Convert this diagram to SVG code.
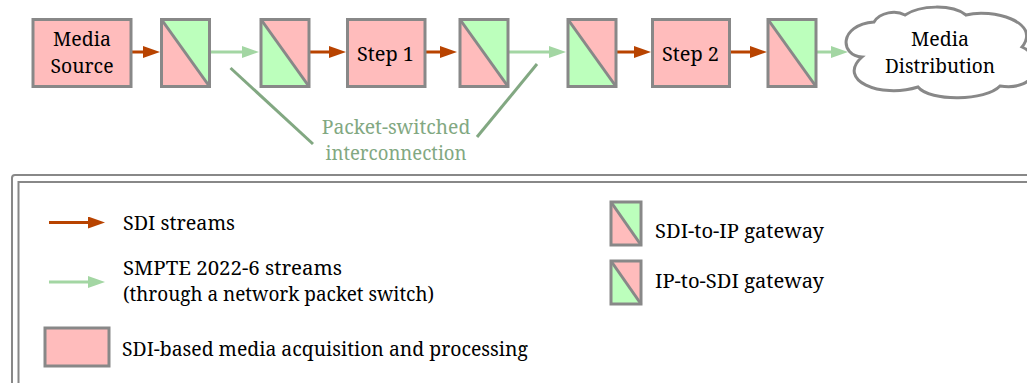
<svg xmlns="http://www.w3.org/2000/svg" width="1027" height="383" viewBox="0 0 1027 383">
<style>
text{font-family:"Noto Serif","DejaVu Serif",serif;font-size:20px;fill:#000}
.box{fill:#ffbcbc;stroke:#888;stroke-width:3}
.frame{fill:none;stroke:#888;stroke-width:3}
.pk{fill:#ffbcbc}
.gr{fill:#bcffbc}
.diag{stroke:#888;stroke-width:3}
.sdi{stroke:#b84300;stroke-width:3;fill:none;marker-end:url(#hb)}
.ip{stroke:#a3d6a3;stroke-width:3;fill:none;marker-end:url(#hg)}
.call{stroke:#82a882;stroke-width:3}
.ctext{fill:#82a882;text-anchor:middle}
.mid{text-anchor:middle}
.leg{fill:none;stroke:#888;stroke-width:2}
</style>
<defs>
<marker id="hb" viewBox="0 0 17 12" refX="7" refY="6" markerWidth="17" markerHeight="12" markerUnits="userSpaceOnUse" orient="auto"><path d="M0,0 L17,6 L0,12 Z" fill="#b84300"/></marker>
<marker id="hg" viewBox="0 0 17 12" refX="7" refY="6" markerWidth="17" markerHeight="12" markerUnits="userSpaceOnUse" orient="auto"><path d="M0,0 L17,6 L0,12 Z" fill="#a3d6a3"/></marker>
<g id="gw-s2i">
<polygon class="gr" points="0,0 48,0 48,67"/>
<polygon class="pk" points="0,0 0,67 48,67"/>
<line class="diag" x1="0" y1="0" x2="48" y2="67"/>
<rect class="frame" x="0" y="0" width="48" height="67"/>
</g>
<g id="gw-i2s">
<polygon class="pk" points="0,0 48,0 48,67"/>
<polygon class="gr" points="0,0 0,67 48,67"/>
<line class="diag" x1="0" y1="0" x2="48" y2="67"/>
<rect class="frame" x="0" y="0" width="48" height="67"/>
</g>
</defs>
<rect width="1027" height="383" fill="#fff"/>

<g id="connectors">
<line class="sdi" x1="131" y1="52" x2="150" y2="52"/>
<line class="ip" x1="210" y1="52" x2="249" y2="52"/>
<line class="sdi" x1="309" y1="52" x2="336" y2="52"/>
<line class="sdi" x1="425" y1="52" x2="447" y2="52"/>
<line class="ip" x1="508" y1="52" x2="556" y2="52"/>
<line class="sdi" x1="616" y1="52" x2="641" y2="52"/>
<line class="sdi" x1="729" y1="52" x2="757" y2="52"/>
<line class="ip" x1="817" y1="52" x2="838" y2="52"/>
<line class="call" x1="230.5" y1="68" x2="313" y2="144"/>
<line class="call" x1="537" y1="64" x2="477" y2="137"/>
</g>

<g id="media-source">
<rect class="box" x="33" y="19.5" width="98" height="67"/>
<text class="mid" x="82" y="45.5" textLength="58" lengthAdjust="spacingAndGlyphs">Media</text>
<text class="mid" x="82" y="72.5" textLength="63" lengthAdjust="spacingAndGlyphs">Source</text>
</g>
<g id="gateway1"><use href="#gw-s2i" x="161.5" y="19.5"/></g>
<g id="gateway2"><use href="#gw-i2s" x="261" y="19.5"/></g>
<g id="step1">
<rect class="box" x="347.5" y="19.5" width="77.5" height="67"/>
<text class="mid" x="385.5" y="60.5" textLength="57" lengthAdjust="spacingAndGlyphs">Step 1</text>
</g>
<g id="gateway3"><use href="#gw-s2i" x="460" y="19.5"/></g>
<g id="gateway4"><use href="#gw-i2s" x="568" y="19.5"/></g>
<g id="step2">
<rect class="box" x="652.5" y="19.5" width="77" height="67"/>
<text class="mid" x="690.5" y="60.5" textLength="57" lengthAdjust="spacingAndGlyphs">Step 2</text>
</g>
<g id="gateway5"><use href="#gw-s2i" x="768" y="19.5"/></g>
<g id="media-distribution">
<path d="M862,57 C840,56 838,25 874,22 C880,12 896,10 905,15 C920,5 952,4 966,15 C992,8 1042,22 1022,47 C1046,58 1038,92 1000,86 C986,101 930,102 918,87 C880,99 836,80 862,57 Z" fill="#fff" stroke="#888" stroke-width="3"/>
<text class="mid" x="940" y="45.5" textLength="58" lengthAdjust="spacingAndGlyphs">Media</text>
<text class="mid" x="940" y="72.5" textLength="110" lengthAdjust="spacingAndGlyphs">Distribution</text>
</g>
<g id="callout-label">
<text class="ctext" x="396" y="134" textLength="148.5" lengthAdjust="spacingAndGlyphs">Packet-switched</text>
<text class="ctext" x="396" y="160" textLength="141" lengthAdjust="spacingAndGlyphs">interconnection</text>
</g>

<g id="legend">
<rect class="leg" x="12" y="175" width="1100" height="300" rx="3"/>
<rect class="leg" x="18.5" y="182" width="1100" height="300"/>
<line class="sdi" x1="49" y1="222.5" x2="95" y2="222.5"/>
<text x="123" y="230" textLength="112" lengthAdjust="spacingAndGlyphs">SDI streams</text>
<line class="ip" x1="49" y1="282" x2="95" y2="282"/>
<text x="123" y="275" textLength="219" lengthAdjust="spacingAndGlyphs">SMPTE 2022-6 streams</text>
<text x="123" y="301" textLength="311" lengthAdjust="spacingAndGlyphs">(through a network packet switch)</text>
<rect class="box" x="45" y="328" width="64" height="38"/>
<text x="122" y="356" textLength="406" lengthAdjust="spacingAndGlyphs">SDI-based media acquisition and processing</text>
<g transform="translate(611,202) scale(0.625,0.642)">
<polygon class="gr" points="0,0 48,0 48,67"/>
<polygon class="pk" points="0,0 0,67 48,67"/>
</g>
<line class="diag" x1="611" y1="202" x2="641" y2="245"/>
<rect class="frame" x="611" y="202" width="30" height="43"/>
<text x="655" y="238" textLength="169" lengthAdjust="spacingAndGlyphs">SDI-to-IP gateway</text>
<g transform="translate(611,261) scale(0.625,0.642)">
<polygon class="pk" points="0,0 48,0 48,67"/>
<polygon class="gr" points="0,0 0,67 48,67"/>
</g>
<line class="diag" x1="611" y1="261" x2="641" y2="304"/>
<rect class="frame" x="611" y="261" width="30" height="43"/>
<text x="655" y="288" textLength="169" lengthAdjust="spacingAndGlyphs">IP-to-SDI gateway</text>
</g>
</svg>
